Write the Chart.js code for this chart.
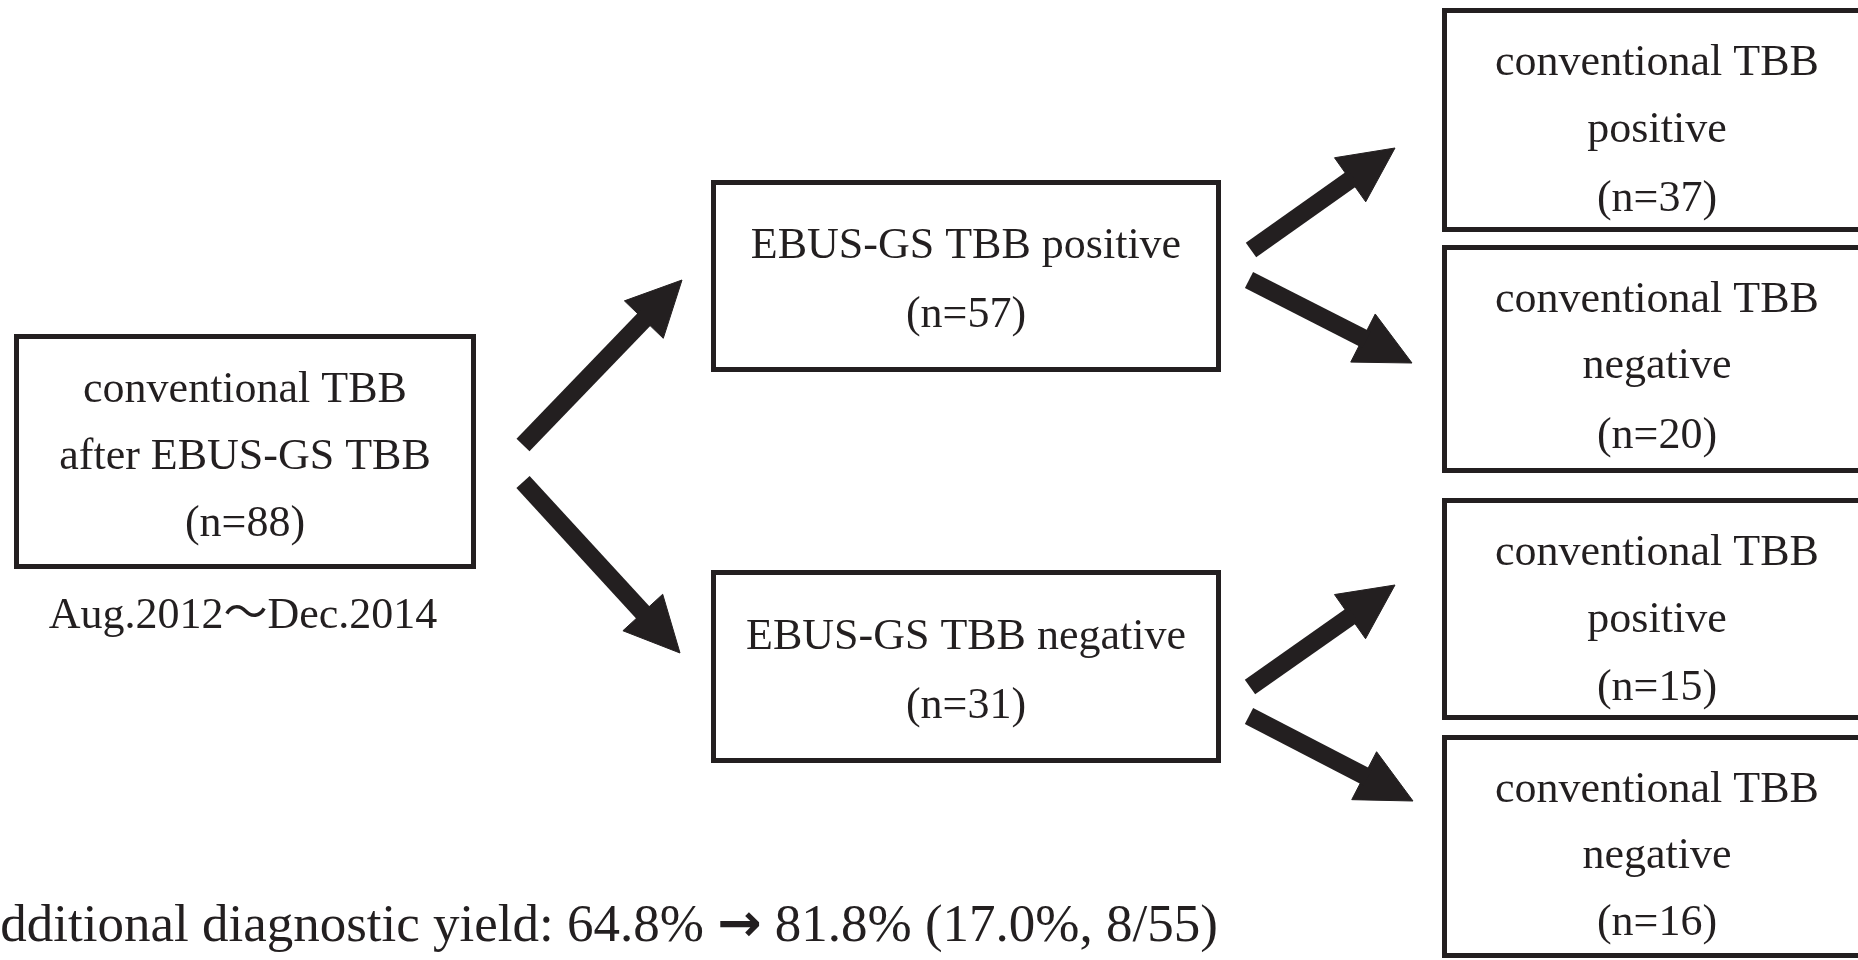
<!DOCTYPE html>
<html>
<head>
<meta charset="utf-8">
<title>EBUS-GS TBB flow</title>
<script src="https://cdn.jsdelivr.net/npm/chart.js@4.4.0/dist/chart.umd.min.js"></script>
<style>
    html, body { margin: 0; padding: 0; background: #fff; overflow: hidden; }
    #flow { display: block; }
</style>
</head>
<body>
<canvas id="flow" width="1858" height="960"></canvas>
<script>
    "use strict";

    // Data
    var stages = [
        "conventional TBB\nafter EBUS-GS TBB",
        "EBUS-GS TBB positive",
        "EBUS-GS TBB negative",
        "conventional TBB\npositive",
        "conventional TBB\nnegative",
        "conventional TBB\npositive",
        "conventional TBB\nnegative"
    ];
    var counts = [88, 57, 31, 37, 20, 15, 16];
    var period = "Aug.2012\u301CDec.2014";
    var yieldBefore = 64.8, yieldAfter = 81.8, yieldGain = 17.0;
    var gainCases = 8, gainBase = 55;

    // Layout, in page pixels (the hidden axes run 0..1858 and 0..960)
    var boxLeft   = [14, 711, 711, 1442, 1442, 1442, 1442];
    var boxRight  = [476, 1221, 1221, 1875, 1875, 1875, 1875];
    var boxTop    = [334, 180, 570, 8, 245, 498, 735];
    var boxBottom = [569, 372, 763, 232, 473, 720, 958];
    var textX     = [245, 966, 966, 1657, 1657, 1657, 1657];
    var textBase  = [[402, 469, 536], [258, 327], [649, 718],
                     [75, 142, 211], [312, 378, 448], [565, 632, 700], [802, 868, 935]];
    var arrowFrom = [[523, 445], [523, 482], [1251, 250], [1249, 280], [1250, 687], [1249, 716]];
    var arrowTo   = [[682, 280], [680, 653], [1395, 148], [1412, 363], [1395, 585], [1413, 801]];

    var ink = "#231f20";
    var border = 5, shaft = 18, headLen = 55, headWide = 54;

    var datasets = [];

    // Boxes
    stages.forEach(function (s, i) {
        var h = border / 2;
        var l = boxLeft[i] + h, r = boxRight[i] - h, t = boxTop[i] + h, b = boxBottom[i] - h;
        datasets.push({
            data: [{x: l, y: t}, {x: r, y: t}, {x: r, y: b}, {x: l, y: b}, {x: l, y: t - h}],
            borderColor: ink,
            borderWidth: border,
            borderJoinStyle: "miter",
            fill: false
        });
    });

    // Arrows: shaft + head
    arrowFrom.forEach(function (p, i) {
        var q = arrowTo[i];
        var dx = q[0] - p[0], dy = q[1] - p[1];
        var len = Math.sqrt(dx * dx + dy * dy);
        var ux = dx / len, uy = dy / len;
        var bx = q[0] - ux * headLen, by = q[1] - uy * headLen;
        datasets.push({
            data: [{x: p[0], y: p[1]}, {x: bx + ux * 4, y: by + uy * 4}],
            borderColor: ink,
            borderWidth: shaft,
            borderCapStyle: "butt",
            fill: false
        });
        datasets.push({
            data: [
                {x: q[0], y: q[1]},
                {x: bx - uy * headWide / 2, y: by + ux * headWide / 2},
                {x: bx + uy * headWide / 2, y: by - ux * headWide / 2},
                {x: q[0], y: q[1]}
            ],
            borderColor: ink,
            borderWidth: 1,
            backgroundColor: ink,
            fill: "shape"
        });
    });

    var labelPlugin = {
        id: "boxLabels",
        afterDatasetsDraw: function (chart) {
            var ctx = chart.ctx, xs = chart.scales.x, ys = chart.scales.y;
            ctx.save();
            ctx.fillStyle = ink;
            ctx.textBaseline = "alphabetic";
            ctx.textAlign = "center";
            ctx.font = '44px "Liberation Serif", "Noto Sans CJK JP"';
            stages.forEach(function (name, i) {
                var lines = name.split("\n").concat("(n=" + counts[i] + ")");
                lines.forEach(function (line, j) {
                    ctx.fillText(line, xs.getPixelForValue(textX[i]), ys.getPixelForValue(textBase[i][j]));
                });
            });
            ctx.fillText(period, xs.getPixelForValue(243), ys.getPixelForValue(628));

            // yield line under the flow
            var parts = [
                ["Additional diagnostic yield: " + yieldBefore.toFixed(1) + "% ", '53px "Liberation Serif"'],
                ["\u2192", 'bold 53px "DejaVu Sans"'],
                [" " + yieldAfter.toFixed(1) + "% (" + yieldGain.toFixed(1) + "%, " + gainCases + "/" + gainBase + ")", '53px "Liberation Serif"']
            ];
            ctx.textAlign = "left";
            var x = xs.getPixelForValue(-38), y = ys.getPixelForValue(941);
            parts.forEach(function (pt) {
                ctx.font = pt[1];
                ctx.fillText(pt[0], x, y);
                x += ctx.measureText(pt[0]).width;
            });
            ctx.restore();
        }
    };

    new Chart(document.getElementById("flow").getContext("2d"), {
        type: "line",
        data: {datasets: datasets},
        options: {
            responsive: false,
            animation: false,
            devicePixelRatio: 1,
            layout: {padding: 0},
            elements: {
                point: {radius: 0, hoverRadius: 0},
                line: {tension: 0}
            },
            scales: {
                x: {type: "linear", min: 0, max: 1858, display: false},
                y: {type: "linear", min: 0, max: 960, reverse: true, display: false}
            },
            plugins: {
                legend: {display: false},
                tooltip: {enabled: false}
            },
            events: []
        },
        plugins: [labelPlugin]
    });
</script>
</body>
</html>
